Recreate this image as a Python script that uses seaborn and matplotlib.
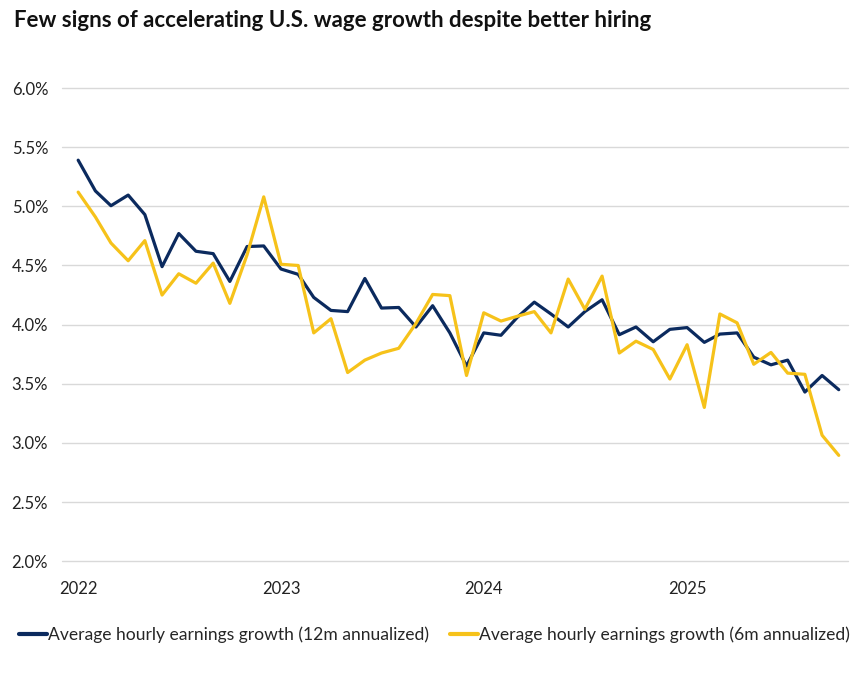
import numpy as np
import pandas as pd
import seaborn as sns
import matplotlib.pyplot as plt
import matplotlib.dates as mdates

# monthly readings, Jan 2022 - Oct 2025
months = pd.date_range("2022-01-01", periods=46, freq="MS")

ahe_12m = [5.39, 5.13, 5.005, 5.095, 4.93, 4.49, 4.77, 4.62, 4.60, 4.365, 4.66, 4.665,
           4.47, 4.425, 4.23, 4.12, 4.11, 4.39, 4.14, 4.145, 3.98, 4.16, 3.93, 3.65,
           3.93, 3.91, 4.06, 4.19, 4.09, 3.98, 4.11, 4.21, 3.915, 3.98, 3.855, 3.96,
           3.975, 3.85, 3.92, 3.93, 3.725, 3.66, 3.70, 3.43, 3.57, 3.45]

ahe_6m = [5.12, 4.91, 4.69, 4.54, 4.71, 4.25, 4.43, 4.35, 4.52, 4.18, 4.59, 5.08,
          4.51, 4.50, 3.93, 4.05, 3.595, 3.70, 3.76, 3.80, 4.01, 4.255, 4.245, 3.57,
          4.10, 4.03, 4.07, 4.11, 3.93, 4.385, 4.13, 4.41, 3.76, 3.86, 3.79, 3.54,
          3.83, 3.30, 4.09, 4.015, 3.665, 3.765, 3.59, 3.58, 3.065, 2.895]

series_names = ["Average hourly earnings growth (12m annualized)",
                "Average hourly earnings growth (6m annualized)"]
colors = ["#0B2A5E", "#F6C21A"]

df = pd.DataFrame({"date": list(months) * 2,
                   "value": ahe_12m + ahe_6m,
                   "series": [series_names[0]] * 46 + [series_names[1]] * 46})

sns.set_theme(style="white")
plt.rcParams["font.family"] = ["Lato", "DejaVu Sans"]

fig = plt.figure(figsize=(8.62, 6.77), dpi=100)
ax = fig.add_axes([0.072, 0.171, 0.912, 0.699])

sns.lineplot(data=df, x="date", y="value", hue="series", palette=colors,
             linewidth=2.3, ax=ax)

ax.set_ylim(2.0, 6.0)
ax.set_yticks(np.arange(2.0, 6.01, 0.5))
ax.set_yticklabels([f"{v:.1f}%" for v in np.arange(2.0, 6.01, 0.5)], fontsize=12, color="#222222")
ax.set_xlim(pd.Timestamp("2021-12-03"), pd.Timestamp("2025-10-18"))
ax.xaxis.set_major_locator(mdates.YearLocator())
ax.xaxis.set_major_formatter(mdates.DateFormatter("%Y"))
ax.tick_params(axis="x", labelsize=12, colors="#222222", length=0, pad=14)
ax.tick_params(axis="y", length=0, pad=10)
ax.yaxis.grid(True, color="#d9d9d9", linewidth=1)
for gl in ax.get_ygridlines():
    gl.set_clip_on(False)
ax.set_xlabel("")
ax.set_ylabel("")
for s in ax.spines.values():
    s.set_visible(False)

leg = ax.legend(loc="center left", bbox_to_anchor=(-0.075, -0.155), ncol=2, frameon=False,
                fontsize=12.6, handlelength=1.6, handletextpad=0.05, columnspacing=1.2)
for h in leg.get_lines():
    h.set_linewidth(3)

fig.text(0.016, 0.97, "Few signs of accelerating U.S. wage growth despite better hiring",
         fontsize=16, fontweight="bold", va="center", ha="left", color="#111111")

fig.savefig("out.png", dpi=100)
